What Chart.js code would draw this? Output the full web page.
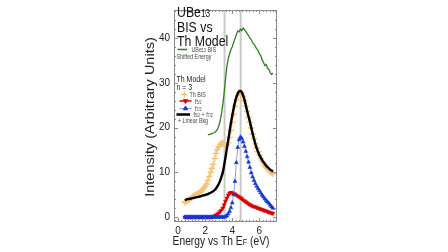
<!DOCTYPE html>
<html>
<head>
<meta charset="utf-8">
<script src="https://cdn.jsdelivr.net/npm/chart.js@4.4.1/dist/chart.umd.min.js"></script>
<style>
  html, body { margin: 0; padding: 0; background: #fff; }
  #wrap { width: 448px; height: 252px; }
</style>
</head>
<body>
<div id="wrap"><canvas id="chart" width="448" height="252"></canvas></div>
<script>
// Th model energies (eV) and intensities
const energy = [0.5, 0.6, 0.7, 0.8, 0.9,
    1.0, 1.1, 1.2, 1.3, 1.4, 1.5, 1.6, 1.7, 1.8, 1.9,
    2.0, 2.1, 2.2, 2.3, 2.4, 2.5, 2.6, 2.7, 2.8, 2.9,
    3.0, 3.1, 3.2, 3.3, 3.4, 3.5, 3.6, 3.7, 3.8, 3.9,
    4.0, 4.1, 4.2, 4.3, 4.4, 4.5, 4.6, 4.7, 4.8, 4.9,
    5.0, 5.1, 5.2, 5.3, 5.4, 5.5, 5.6, 5.7, 5.8, 5.9,
    6.0, 6.1, 6.2, 6.3, 6.4, 6.5, 6.6, 6.7, 6.8, 6.9,
    7.0];
const thBis = [3.3, 3.5, 3.7, 3.9, 4.1,
    4.3, 4.6, 4.8, 5.0, 5.1, 5.3, 5.5, 5.8, 6.1, 6.5,
    6.9, 7.4, 8.2, 9.1, 10.0, 10.9, 11.8, 13.1, 14.2, 15.1,
    15.7, 16.2, 16.5, 16.6, 16.3, 16.0, 16.1, 16.6, 17.8, 19.4,
    21.2, 23.0, 24.8, 26.2, 27.2, 27.8, 28.1, 27.7, 27.0, 26.0,
    24.8, 23.6, 22.4, 21.2, 19.9, 18.6, 17.5, 16.4, 15.4, 14.6,
    13.8, 13.1, 12.5, 12.0, 11.5, 11.1, 10.8, 10.5, 10.2, 9.9,
    9.7];
const f52 = [0, 0, 0, 0, 0,
    0, 0, 0, 0, 0, 0, 0, 0, 0, 0,
    0, 0, 0, 0, 0, 0, 0.1, 0.25, 0.45, 0.65,
    0.9, 1.2, 1.55, 2.0, 2.7, 3.5, 4.2, 4.9, 5.35, 5.5,
    5.45, 5.3, 5.1, 4.9, 4.7, 4.5, 4.3, 4.1, 3.8, 3.6,
    3.4, 3.15, 2.95, 2.75, 2.6, 2.45, 2.35, 2.25, 2.1, 2.0,
    1.9, 1.8, 1.65, 1.55, 1.45, 1.35, 1.2, 1.1, 1.0, 0.9,
    0.8];
const f72 = [0, 0, 0, 0, 0,
    0, 0, 0, 0, 0, 0, 0, 0, 0, 0,
    0, 0, 0, 0, 0, 0, 0, 0, 0, 0,
    0, 0, 0, 0, 0, 0.1, 0.3, 0.7, 1.3, 2.1,
    3.2, 5.0, 8.0, 12.2, 15.6, 17.3, 17.9, 17.6, 16.8, 15.8,
    14.7, 13.5, 12.3, 11.1, 9.9, 9.0, 8.2, 7.5, 6.9, 6.4,
    5.9, 5.4, 4.9, 4.5, 4.1, 3.7, 3.4, 3.1, 2.7, 2.3,
    2.0];
const fitTotal = [3.8, 3.9, 4.0, 4.05, 4.1,
    4.2, 4.25, 4.3, 4.4, 4.45, 4.5, 4.6, 4.7, 4.8, 4.85,
    4.95, 5.05, 5.15, 5.3, 5.45, 5.6, 5.8, 6.05, 6.4, 6.85,
    7.4, 8.1, 9.0, 10.0, 11.6, 13.4, 15.3, 17.2, 19.1, 21.0,
    22.7, 24.3, 25.7, 26.8, 27.6, 28.1, 28.2, 27.9, 27.2, 26.2,
    25.0, 23.7, 22.5, 21.3, 20.0, 18.7, 17.5, 16.4, 15.4, 14.6,
    13.9, 13.3, 12.8, 12.3, 11.9, 11.5, 11.2, 10.9, 10.6, 10.4,
    10.2];

// UBe13 BIS, shifted energy
const ubeEnergy = [2.2, 2.3, 2.4, 2.5, 2.6, 2.7, 2.8, 2.9,
    3.0, 3.1, 3.2, 3.3, 3.4, 3.5, 3.6, 3.7, 3.8, 3.9,
    4.0, 4.1, 4.2, 4.3, 4.4, 4.5, 4.6, 4.7, 4.8, 4.9,
    5.0, 5.1, 5.2, 5.3, 5.4, 5.5, 5.6, 5.7, 5.8, 5.9,
    6.0, 6.1, 6.2, 6.3, 6.4, 6.5, 6.6, 6.7, 6.8, 6.9,
    7.0];
const ubeBis = [18.4, 18.5, 18.5, 18.7, 18.8, 18.9, 19.2, 19.6,
    20.3, 21.4, 23.0, 25.2, 27.8, 30.8, 33.6, 35.4, 36.4, 37.4,
    38.1, 39.0, 39.9, 40.8, 41.6, 41.4, 42.0, 41.7, 42.3, 41.9,
    41.5, 41.0, 40.6, 40.0, 39.7, 39.0, 38.6, 38.2, 37.6, 37.3,
    36.5, 36.1, 35.2, 34.6, 33.9, 34.1, 33.3, 33.0, 32.3, 31.9,
    32.2];

const markerLines = [3.43, 4.62];
const xTicks = [0, 2, 4, 6];
const yTicks = [0, 10, 20, 30, 40];

const SANS = 'Arial, "Liberation Sans", sans-serif';
const SQUEEZE = 0.82;   // the figure is squashed sideways, text too

const pts = (xs, ys) => xs.map((x, i) => ({ x: x, y: ys[i] }));

function richWidth(ctx, parts) {
    let w = 0;
    parts.forEach(p => {
        ctx.font = p[1] + 'px ' + SANS;
        w += ctx.measureText(p[0]).width;
    });
    return w;
}

// parts: [text, size, dy]
function drawRich(ctx, parts, x, y, color, align, rotated) {
    ctx.save();
    ctx.translate(x, y);
    if (rotated) {
        ctx.rotate(-Math.PI / 2);
        ctx.scale(1, SQUEEZE);
    } else {
        ctx.scale(SQUEEZE, 1);
    }
    ctx.fillStyle = color;
    ctx.textBaseline = 'alphabetic';
    ctx.textAlign = 'left';
    let cx = align === 'center' ? -richWidth(ctx, parts) / 2 : 0;
    parts.forEach(p => {
        ctx.font = p[1] + 'px ' + SANS;
        ctx.fillText(p[0], cx, p[2] || 0);
        cx += ctx.measureText(p[0]).width;
    });
    ctx.restore();
}

function legendLine(ctx, x1, x2, y, color, width) {
    ctx.save();
    ctx.strokeStyle = color;
    ctx.lineWidth = width;
    ctx.beginPath();
    ctx.moveTo(x1, y);
    ctx.lineTo(x2, y);
    ctx.stroke();
    ctx.restore();
}

function legendMarker(ctx, style, rotation, radius, fill, stroke, bw, x, y) {
    ctx.save();
    ctx.fillStyle = fill;
    ctx.strokeStyle = stroke;
    ctx.lineWidth = bw;
    Chart.helpers.drawPoint(ctx, { pointStyle: style, rotation: rotation, radius: radius, borderWidth: bw }, x, y);
    ctx.restore();
}

const decor = {
    id: 'decor',
    beforeDatasetsDraw(chart) {
        const { ctx, chartArea: a, scales: { x } } = chart;
        ctx.save();
        ctx.strokeStyle = '#cacaca';
        ctx.lineWidth = 2;
        markerLines.forEach(v => {
            const px = x.getPixelForValue(v);
            ctx.beginPath();
            ctx.moveTo(px, a.top);
            ctx.lineTo(px, a.bottom);
            ctx.stroke();
        });
        ctx.restore();
    },
    afterDraw(chart) {
        const { ctx, chartArea: a, scales: { x, y } } = chart;

        // frame and ticks
        ctx.save();
        ctx.strokeStyle = '#8a8a8a';
        ctx.lineWidth = 1;
        ctx.strokeRect(a.left + 0.5, a.top + 0.5, a.right - a.left - 1, a.bottom - a.top - 1);
        ctx.beginPath();
        for (let v = -0.25; v <= 7.25; v += 0.25) {
            const px = Math.round(x.getPixelForValue(v)) + 0.5;
            const len = (Math.abs(v % 2) < 1e-6) ? 4 : 2;
            ctx.moveTo(px, a.bottom);
            ctx.lineTo(px, a.bottom - len);
            ctx.moveTo(px, a.top);
            ctx.lineTo(px, a.top + len);
        }
        for (let v = 0; v <= 46; v += 2) {
            const py = Math.round(y.getPixelForValue(v)) + 0.5;
            const len = (v % 10 === 0) ? 4 : 2;
            ctx.moveTo(a.right, py);
            ctx.lineTo(a.right - len, py);
            ctx.moveTo(a.left, py);
            ctx.lineTo(a.left + len, py);
        }
        ctx.stroke();
        ctx.restore();

        // axis titles
        drawRich(ctx, [['Intensity (Arbitrary Units)', 14.5]], 154, 117, '#222', 'center', true);
        drawRich(ctx, [['Energy vs Th E', 12.5], ['F', 9], [' (eV)', 12.5]], 221, 245, '#222', 'center');

        // big title
        drawRich(ctx, [['UBe', 15], ['13', 10]], 177, 17, '#111', 'left');
        drawRich(ctx, [['BIS vs', 15]], 177, 31.5, '#111', 'left');
        drawRich(ctx, [['Th Model', 15]], 177, 45.5, '#111', 'left');

        // legend
        legendLine(ctx, 177.5, 187, 49.5, '#2f7d22', 1.5);
        drawRich(ctx, [['UBe', 6.5], ['13', 4.5], [' BIS', 6.5]], 191.5, 52, '#444', 'left');
        drawRich(ctx, [['Shifted Energy', 6.5]], 176.5, 59, '#444', 'left');

        drawRich(ctx, [['Th Model', 8.5]], 176.5, 82, '#222', 'left');
        drawRich(ctx, [['n = 3', 8.5]], 176.5, 89.5, '#222', 'left');

        legendMarker(ctx, 'cross', 0, 3, '#f6c27a', '#f6c27a', 1.5, 184.5, 94.5);
        drawRich(ctx, [['Th BIS', 6.5]], 189.5, 97, '#444', 'left');

        legendLine(ctx, 179.5, 191.5, 101, '#d80000', 1.5);
        legendMarker(ctx, 'triangle', 180, 2.5, '#d80000', '#d80000', 1, 185.5, 101);
        drawRich(ctx, [['f', 6.5], ['5/2', 4.5]], 195, 103.5, '#444', 'left');

        legendLine(ctx, 179.5, 191.5, 108.5, '#8aa2ee', 1);
        legendMarker(ctx, 'triangle', 0, 2.5, '#1537d6', '#1537d6', 1, 185.5, 108.5);
        drawRich(ctx, [['f', 6.5], ['7/2', 4.5]], 195, 111, '#444', 'left');

        legendLine(ctx, 176.5, 190, 114.5, '#000', 2.5);
        drawRich(ctx, [['f', 6.5], ['5/2', 4.5], [' + f', 6.5], ['7/2', 4.5]], 193.5, 117, '#444', 'left');
        drawRich(ctx, [['+ Linear Bkg', 6.5]], 178, 123, '#444', 'left');
    }
};

new Chart(document.getElementById('chart'), {
    type: 'line',
    data: {
        datasets: [
            {
                label: 'f7/2',
                data: pts(energy, f72),
                borderColor: '#8aa2ee',
                borderWidth: 1,
                pointStyle: 'triangle',
                pointRadius: 2.3,
                pointBackgroundColor: '#1537d6',
                pointBorderColor: '#1537d6',
                pointBorderWidth: 0.5,
                tension: 0
            },
            {
                label: 'f5/2',
                data: pts(energy, f52),
                borderColor: '#d80000',
                borderWidth: 1.8,
                pointStyle: 'triangle',
                pointRotation: 180,
                pointRadius: 2.3,
                pointBackgroundColor: '#d80000',
                pointBorderColor: '#d80000',
                pointBorderWidth: 0.5,
                tension: 0
            },
            {
                label: 'f5/2 + f7/2 + Linear Bkg',
                data: pts(energy, fitTotal),
                borderColor: '#000000',
                borderWidth: 2.4,
                pointRadius: 0,
                tension: 0.3
            },
            {
                label: 'UBe13 BIS Shifted Energy',
                data: pts(ubeEnergy, ubeBis),
                borderColor: '#2f7d22',
                borderWidth: 1.3,
                pointRadius: 0,
                tension: 0
            },
            {
                label: 'Th BIS',
                data: pts(energy, thBis),
                showLine: false,
                pointStyle: 'cross',
                pointRadius: 3.2,
                pointBorderColor: '#f6c27a',
                pointBorderWidth: 1.5
            }
        ]
    },
    options: {
        responsive: false,
        animation: false,
        devicePixelRatio: 1,
        layout: { padding: { left: 144, right: 171, top: 4, bottom: 0 } },
        plugins: {
            legend: { display: false },
            tooltip: { enabled: false }
        },
        scales: {
            x: {
                type: 'linear',
                min: -0.3,
                max: 7.3,
                afterBuildTicks: sc => { sc.ticks = xTicks.map(v => ({ value: v })); },
                afterFit: sc => { sc.height = 30; },
                grid: { display: false, drawTicks: false },
                border: { display: false },
                ticks: { padding: 3, color: '#222', font: { family: SANS, size: 10 }, maxRotation: 0 }
            },
            y: {
                type: 'linear',
                min: -1.1,
                max: 46.3,
                afterBuildTicks: sc => { sc.ticks = yTicks.map(v => ({ value: v })); },
                afterFit: sc => { sc.width = 30; },
                grid: { display: false, drawTicks: false },
                border: { display: false },
                ticks: { padding: 4, color: '#222', font: { family: SANS, size: 10 } }
            }
        }
    },
    plugins: [decor]
});
</script>
</body>
</html>
